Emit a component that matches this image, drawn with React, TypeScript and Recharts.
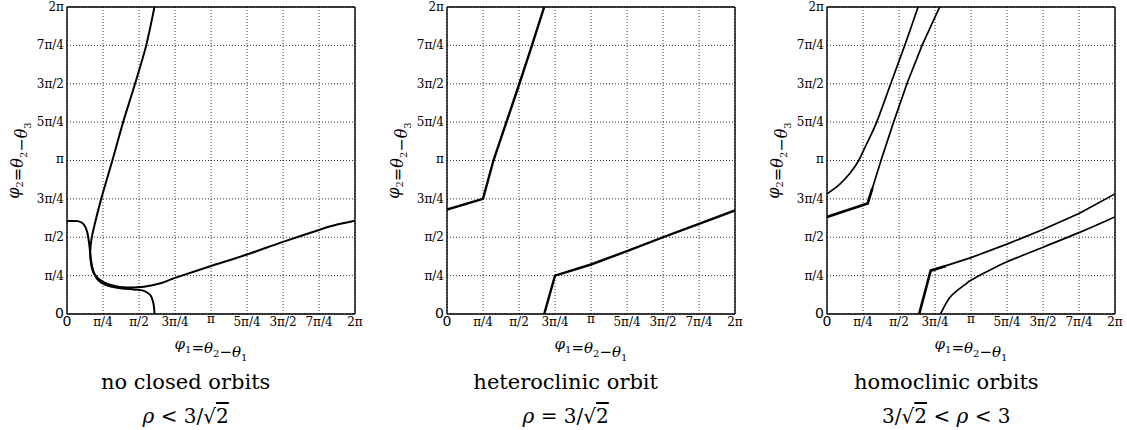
import { LineChart, Line, XAxis, YAxis, CartesianGrid, ReferenceLine, Label } from "recharts";

// all coordinates in units of π/4 (0..8 covers 0..2π)
const tickValues = [0, 1, 2, 3, 4, 5, 6, 7, 8];
const tickLabels = ["0", "π/4", "π/2", "3π/4", "π", "5π/4", "3π/2", "7π/4", "2π"];

// rho < 3/sqrt(2)
const noClosedA = [
	{ x: 2.43, y: 8 }, { x: 2.2, y: 7 }, { x: 1.89, y: 6 }, { x: 1.56, y: 5 },
	{ x: 1.26, y: 4 }, { x: 0.95, y: 3 }, { x: 0.76, y: 2.3 }, { x: 0.68, y: 1.95 },
	{ x: 0.645, y: 1.62 }, { x: 0.67, y: 1.3 }, { x: 0.76, y: 1.04 }, { x: 1.0, y: 0.84 },
	{ x: 1.39, y: 0.72 }, { x: 1.76, y: 0.69 }, { x: 2.14, y: 0.71 }, { x: 2.6, y: 0.8 },
	{ x: 3.0, y: 0.94 }, { x: 4.0, y: 1.25 }, { x: 5.0, y: 1.55 }, { x: 6.0, y: 1.88 },
	{ x: 7.0, y: 2.19 }, { x: 7.5, y: 2.33 }, { x: 8, y: 2.43 },
];
const noClosedB = [
	{ x: 0, y: 2.42 }, { x: 0.3, y: 2.42 }, { x: 0.46, y: 2.34 }, { x: 0.56, y: 2.14 },
	{ x: 0.62, y: 1.8 }, { x: 0.66, y: 1.45 }, { x: 0.72, y: 1.15 }, { x: 0.85, y: 0.9 },
	{ x: 1.1, y: 0.75 }, { x: 1.5, y: 0.67 }, { x: 1.85, y: 0.64 }, { x: 2.12, y: 0.61 },
	{ x: 2.31, y: 0.5 }, { x: 2.39, y: 0.32 }, { x: 2.42, y: 0.15 }, { x: 2.43, y: 0 },
];

// rho = 3/sqrt(2)
const heteroA = [
	{ x: 0, y: 2.72 }, { x: 1.0, y: 3.0 }, { x: 1.29, y: 4 }, { x: 1.65, y: 5 },
	{ x: 2.01, y: 6 }, { x: 2.36, y: 7 }, { x: 2.7, y: 8 },
];
const heteroB = [
	{ x: 2.7, y: 0 }, { x: 3.0, y: 1.0 }, { x: 4, y: 1.29 }, { x: 5, y: 1.64 },
	{ x: 6, y: 2.0 }, { x: 7, y: 2.35 }, { x: 8, y: 2.7 },
];

// 3/sqrt(2) < rho < 3
const homoKinkUpper = [{ x: 0, y: 2.53 }, { x: 1.13, y: 2.88 }, { x: 1.26, y: 3.28 }];
const homoBranchUpper = [
	{ x: 1.13, y: 2.88 }, { x: 1.5, y: 4 }, { x: 1.85, y: 5 }, { x: 2.22, y: 6 },
	{ x: 2.64, y: 7 }, { x: 3.13, y: 8 },
];
const homoThinUpper = [
	{ x: 0, y: 3.13 }, { x: 0.35, y: 3.38 }, { x: 0.65, y: 3.68 }, { x: 0.88, y: 4.0 },
	{ x: 1.1, y: 4.43 }, { x: 1.38, y: 5 }, { x: 1.77, y: 6 }, { x: 2.16, y: 7 }, { x: 2.53, y: 8 },
];
const homoKinkLower = [{ x: 2.56, y: 0 }, { x: 2.88, y: 1.13 }, { x: 3.3, y: 1.25 }];
const homoBranchLower = [
	{ x: 2.88, y: 1.13 }, { x: 4, y: 1.47 }, { x: 5, y: 1.82 }, { x: 6, y: 2.2 },
	{ x: 7, y: 2.62 }, { x: 8, y: 3.13 },
];
const homoThinLower = [
	{ x: 3.15, y: 0 }, { x: 3.43, y: 0.45 }, { x: 3.88, y: 0.8 }, { x: 4, y: 0.88 },
	{ x: 4.43, y: 1.1 }, { x: 5, y: 1.36 }, { x: 6, y: 1.74 }, { x: 7, y: 2.12 }, { x: 8, y: 2.53 },
];

const captionTitles = ["no closed orbits", "heteroclinic orbit", "homoclinic orbits"];

const serif = "DejaVu Serif";
const Y_AXIS_W = 70;
const PLOT_W = 288;
const CHART_W = Y_AXIS_W + PLOT_W + 12;
const chartLefts = [66.7 - Y_AXIS_W, 446.7 - Y_AXIS_W, 827.3 - Y_AXIS_W];

// catmull-rom curve through the points, so the trajectories bend smoothly without overshoot
const catmullRom = (context: any) => {
	let pts: number[][] = [];
	return {
		areaStart() {},
		areaEnd() {},
		lineStart() {
			pts = [];
		},
		point(x: number, y: number) {
			pts.push([+x, +y]);
		},
		lineEnd() {
			if (!pts.length) return;
			context.moveTo(pts[0][0], pts[0][1]);
			for (let i = 0; i < pts.length - 1; i++) {
				const p0 = pts[i - 1] || pts[i];
				const p1 = pts[i];
				const p2 = pts[i + 1];
				const p3 = pts[i + 2] || p2;
				context.bezierCurveTo(
					p1[0] + (p2[0] - p0[0]) / 6,
					p1[1] + (p2[1] - p0[1]) / 6,
					p2[0] - (p3[0] - p1[0]) / 6,
					p2[1] - (p3[1] - p1[1]) / 6,
					p2[0],
					p2[1],
				);
			}
		},
	};
};

const XTick = (props: any) => {
	const { x, y, payload } = props;
	const v = payload.value;
	if (v === 0) {
		return (
			<text x={x} y={y} dy={12} textAnchor="middle" fontFamily="DejaVu Sans" fontSize={14} fill="#000">
				0
			</text>
		);
	}
	return (
		<text x={x} y={y} dy={v === 4 ? 9 : 12} textAnchor="middle" fontFamily={serif} fontSize={12} fill="#000">
			{tickLabels[v]}
		</text>
	);
};

const YTick = (props: any) => {
	const { x, y, payload } = props;
	const v = payload.value;
	if (v === 0) {
		return (
			<text x={x} y={y} dy={4} textAnchor="end" fontFamily="DejaVu Sans" fontSize={14} fill="#000">
				0
			</text>
		);
	}
	return (
		<text x={x} y={y} dy={v === 4 ? 2 : 4} textAnchor="end" fontFamily={serif} fontSize={12} fill="#000">
			{tickLabels[v]}
		</text>
	);
};

const Sub = ({ children }: { children: string }) => (
	<>
		<tspan dy={4} fontSize={10} fontStyle="normal">{children}</tspan>
		<tspan dy={-4}></tspan>
	</>
);

const XLabel = (props: any) => {
	const vb = props.viewBox;
	const cx = vb.x + vb.width / 2;
	const cy = vb.y + 35;
	return (
		<text x={cx} y={cy} textAnchor="middle" fontFamily={serif} fontSize={15} fill="#000">
			<tspan fontStyle="italic">φ</tspan>
			<Sub>1</Sub>
			<tspan>=</tspan>
			<tspan fontStyle="italic">θ</tspan>
			<Sub>2</Sub>
			<tspan>−</tspan>
			<tspan fontStyle="italic">θ</tspan>
			<Sub>1</Sub>
		</text>
	);
};

const YLabel = (props: any) => {
	const vb = props.viewBox;
	const cx = 17;
	const cy = vb.y + vb.height / 2;
	return (
		<text
			x={cx}
			y={cy}
			dy={5}
			transform={`rotate(-90, ${cx}, ${cy})`}
			textAnchor="middle"
			fontFamily={serif}
			fontSize={16}
			fill="#000"
		>
			<tspan fontStyle="italic">φ</tspan>
			<Sub>2</Sub>
			<tspan>=</tspan>
			<tspan fontStyle="italic">θ</tspan>
			<Sub>2</Sub>
			<tspan>−</tspan>
			<tspan fontStyle="italic">θ</tspan>
			<Sub>3</Sub>
		</text>
	);
};

type Curve = { data: { x: number; y: number }[]; width: number; smooth: boolean };

const Panel = ({ left, curves }: { left: number; curves: Curve[] }) => (
	<div style={{ position: "absolute", left, top: 0 }}>
		<LineChart width={CHART_W} height={380} margin={{ top: 7, right: 12, bottom: 20, left: 0 }}>
			<CartesianGrid stroke="#000" strokeDasharray="1 2" strokeWidth={0.8} />
			<XAxis
				type="number"
				dataKey="x"
				domain={[0, 8]}
				ticks={tickValues}
				interval={0}
				allowDataOverflow
				axisLine={false}
				tickLine={false}
				tickSize={0}
				tickMargin={0}
				height={46}
				tick={<XTick />}
			>
				<Label content={<XLabel />} />
			</XAxis>
			<YAxis
				type="number"
				domain={[0, 8]}
				ticks={tickValues}
				interval={0}
				allowDataOverflow
				axisLine={false}
				tickLine={false}
				tickSize={0}
				tickMargin={3}
				width={Y_AXIS_W}
				tick={<YTick />}
			>
				<Label content={<YLabel />} />
			</YAxis>
			{curves.map((c, i) => (
				<Line
					key={i}
					data={c.data}
					dataKey="y"
					type={c.smooth ? (catmullRom as any) : "linear"}
					stroke="#000"
					strokeWidth={c.width}
					dot={false}
					activeDot={false}
					isAnimationActive={false}
				/>
			))}
			<ReferenceLine x={0} stroke="#000" strokeWidth={1.4} />
			<ReferenceLine x={8} stroke="#000" strokeWidth={1.4} />
			<ReferenceLine y={0} stroke="#000" strokeWidth={1.4} />
			<ReferenceLine y={8} stroke="#000" strokeWidth={1.4} />
		</LineChart>
	</div>
);

const App = () => {
	const centers = chartLefts.map((l) => l + Y_AXIS_W + PLOT_W / 2 - 25);
	return (
		<div style={{ position: "absolute", left: 0, top: 0, width: 1127, height: 430, background: "#fff", overflow: "hidden" }}>
			<Panel
				left={chartLefts[0]}
				curves={[
					{ data: noClosedA, width: 2, smooth: true },
					{ data: noClosedB, width: 2, smooth: true },
				]}
			/>
			<Panel
				left={chartLefts[1]}
				curves={[
					{ data: heteroA, width: 2.4, smooth: false },
					{ data: heteroB, width: 2.4, smooth: false },
				]}
			/>
			<Panel
				left={chartLefts[2]}
				curves={[
					{ data: homoThinUpper, width: 1.7, smooth: true },
					{ data: homoBranchUpper, width: 1.7, smooth: false },
					{ data: homoKinkUpper, width: 2.6, smooth: false },
					{ data: homoThinLower, width: 1.7, smooth: true },
					{ data: homoBranchLower, width: 1.7, smooth: false },
					{ data: homoKinkLower, width: 2.6, smooth: false },
				]}
			/>
			<svg width={1127} height={430} style={{ position: "absolute", left: 0, top: 0, pointerEvents: "none" }}>
				{centers.map((cx, i) => (
					<g key={i} fontFamily={serif} fill="#000">
						<text x={cx} y={389} textAnchor="middle" fontSize={21}>
							{captionTitles[i]}
						</text>
						<text x={cx} y={423} textAnchor="middle" fontSize={20}>
							{i === 2 ? (
								<>
									<tspan>3/√</tspan>
									<tspan textDecoration="overline">2</tspan>
									<tspan> {"<"} </tspan>
									<tspan fontStyle="italic">ρ</tspan>
									<tspan> {"<"} 3</tspan>
								</>
							) : (
								<>
									<tspan fontStyle="italic">ρ</tspan>
									<tspan> {i === 0 ? "<" : "="} 3/√</tspan>
									<tspan textDecoration="overline">2</tspan>
								</>
							)}
						</text>
					</g>
				))}
			</svg>
		</div>
	);
};

export default App;
